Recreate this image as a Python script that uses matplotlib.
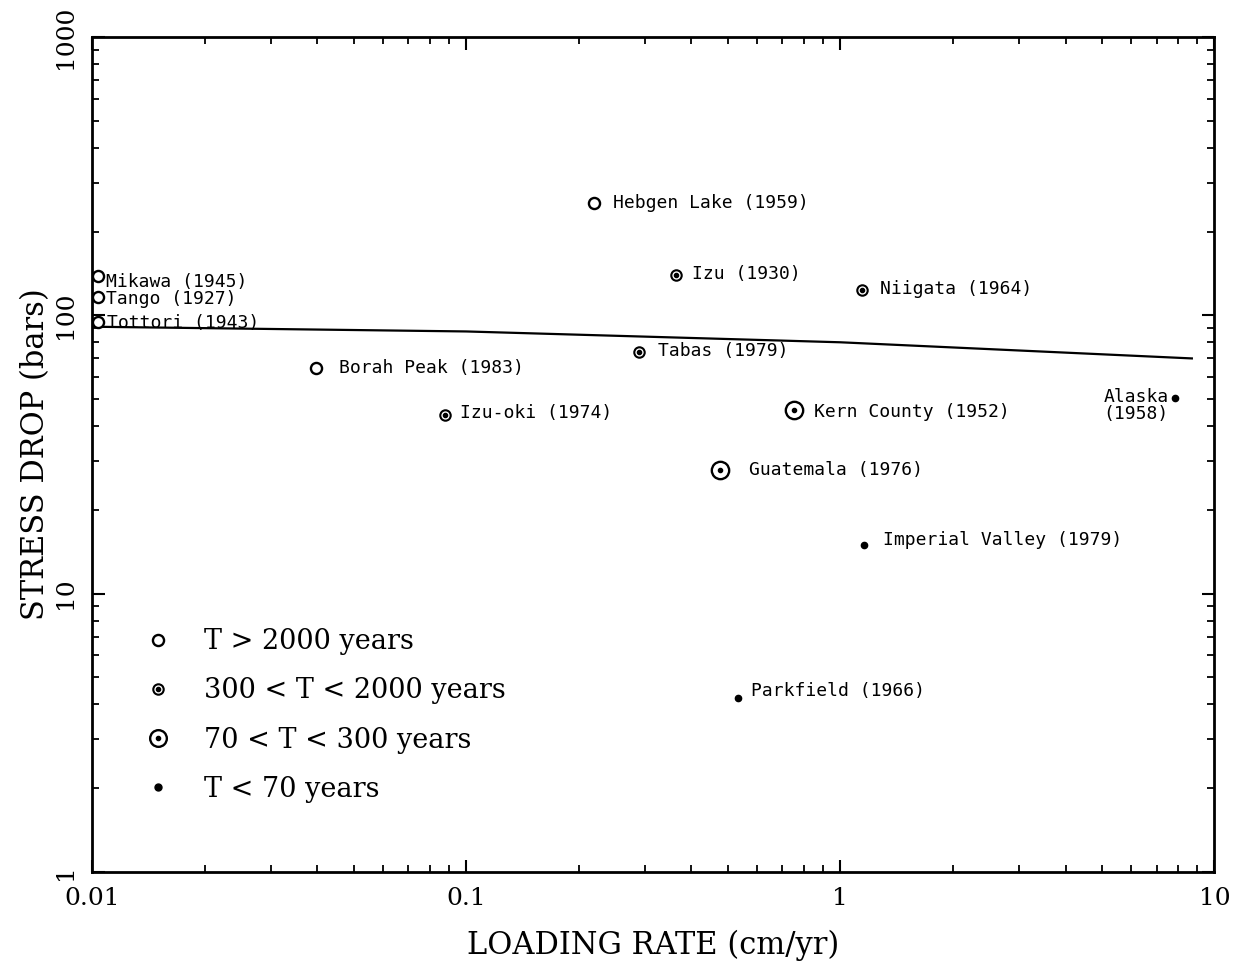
import numpy as np
import matplotlib
matplotlib.use("Agg")
import matplotlib.pyplot as plt
from matplotlib.lines import Line2D

# --- Earthquake stress drop vs. loading rate ---
quake_names = ["Mikawa (1945)", "Tango (1927)", "Tottori (1943)",
               "Hebgen Lake (1959)", "Borah Peak (1983)",
               "Izu (1930)", "Niigata (1964)", "Tabas (1979)", "Izu-oki (1974)",
               "Kern County (1952)", "Guatemala (1976)",
               "Imperial Valley (1979)", "Parkfield (1966)", "Alaska\n(1958)"]
loading_rate = [0.0104, 0.0104, 0.0104, 0.219, 0.0397,
                0.364, 1.14, 0.29, 0.088,
                0.75, 0.477,
                1.16, 0.532, 7.83]          # cm/yr
stress_drop = [138, 116, 94.4, 253, 64.5,
               140, 123, 73.6, 43.7,
               45.5, 27.9,
               15.0, 4.23, 50.3]            # bars
# recurrence class: 0 = T>2000, 1 = 300<T<2000, 2 = 70<T<300, 3 = T<70 yr
recurrence = [0, 0, 0, 0, 0, 1, 1, 1, 1, 2, 2, 3, 3, 3]

# label offsets (points) relative to each symbol
label_dx = [5.8, 5.8, 6.5, 13.7, 16.5, 11.5, 13, 13.7, 10.8, 15, 21, 13.7, 9.4, -4.3]
label_dy = [-4.3, -1.4, -0.7, 0, 0, 0.7, 0.7, 0.7, 1.4, -1.4, 0, 3.6, 5, -5]

# fitted trend line
trend_x = [0.01, 0.1, 1, 8.7]
trend_y = [91, 87.5, 80, 70]

legend_labels = ["T > 2000 years", "300 < T < 2000 years",
                 "70 < T < 300 years", "T < 70 years"]

xtick_vals = [0.01, 0.1, 1, 10]
xtick_text = ["0.01", "0.1", "1", "10"]
ytick_vals = [1, 10, 100, 1000]
ytick_text = ["1", "10", "100", "1000"]

serif = "DejaVu Serif"
mono = "DejaVu Sans Mono"

fig = plt.figure(figsize=(12.38, 9.68), dpi=100)
ax = fig.add_axes([0.0743, 0.0992, 0.9067, 0.8626])
ax.set_xscale("log")
ax.set_yscale("log")
ax.set_xlim(0.01, 10)
ax.set_ylim(1, 1000)

ax.plot(trend_x, trend_y, color="black", lw=1.6, zorder=2)

x = np.array(loading_rate)
y = np.array(stress_drop)
cls = np.array(recurrence)

m0 = cls == 0
m1 = cls == 1
m2 = cls == 2
m3 = cls == 3
ax.plot(x[m0], y[m0], ls="none", marker="o", ms=8, mfc="white", mec="black", mew=1.7, zorder=3)
ax.plot(x[m1], y[m1], ls="none", marker="o", ms=7.5, mfc="white", mec="black", mew=1.5, zorder=3)
ax.plot(x[m1], y[m1], ls="none", marker="o", ms=3, mfc="black", mec="black", zorder=4)
ax.plot(x[m2], y[m2], ls="none", marker="o", ms=12.5, mfc="white", mec="black", mew=1.7, zorder=3)
ax.plot(x[m2], y[m2], ls="none", marker="o", ms=3, mfc="black", mec="black", zorder=4)
ax.plot(x[m3], y[m3], ls="none", marker="o", ms=4.5, mfc="black", mec="black", zorder=3)

for name, xi, yi, dx, dy in zip(quake_names, loading_rate, stress_drop, label_dx, label_dy):
    ha = "right" if dx < 0 else "left"
    ax.annotate(name, (xi, yi), xytext=(dx, dy), textcoords="offset points",
                ha=ha, va="center", multialignment="center", linespacing=0.9,
                fontsize=13, family=mono, color="black", zorder=5)

# legend keys
h0 = Line2D([], [], ls="none", marker="o", ms=8, mfc="white", mec="black", mew=1.7)
h1a = Line2D([], [], ls="none", marker="o", ms=7.5, mfc="white", mec="black", mew=1.5)
h1b = Line2D([], [], ls="none", marker="o", ms=3, mfc="black", mec="black")
h2a = Line2D([], [], ls="none", marker="o", ms=12, mfc="white", mec="black", mew=1.7)
h2b = Line2D([], [], ls="none", marker="o", ms=3, mfc="black", mec="black")
h3 = Line2D([], [], ls="none", marker="o", ms=5, mfc="black", mec="black")
leg = ax.legend([h0, (h1a, h1b), (h2a, h2b), h3], legend_labels,
                loc="upper left", bbox_to_anchor=(0.037, 0.305), frameon=False,
                prop={"family": serif, "size": 19.5}, handlelength=1.0,
                handletextpad=1.2, labelspacing=0.82, borderaxespad=0)

# ticks and frame
ax.set_xticks(xtick_vals)
ax.set_xticklabels(xtick_text)
ax.set_yticks(ytick_vals)
ax.set_yticklabels(ytick_text, rotation=90, va="center")
ax.tick_params(which="major", direction="in", length=9, width=1.5,
               top=True, right=True, labelsize=18, pad=11)
ax.tick_params(which="minor", direction="in", length=5, width=1.3,
               top=True, right=True, labelbottom=False, labelleft=False)
for lab in ax.get_xticklabels() + ax.get_yticklabels():
    lab.set_family(serif)
for sp in ax.spines.values():
    sp.set_linewidth(2.0)

ax.set_xlabel("LOADING RATE (cm/yr)", family=serif, fontsize=22, labelpad=14)
ax.set_ylabel("STRESS DROP (bars)", family=serif, fontsize=22, labelpad=2)

fig.savefig("out.png", dpi=100, facecolor="white")
